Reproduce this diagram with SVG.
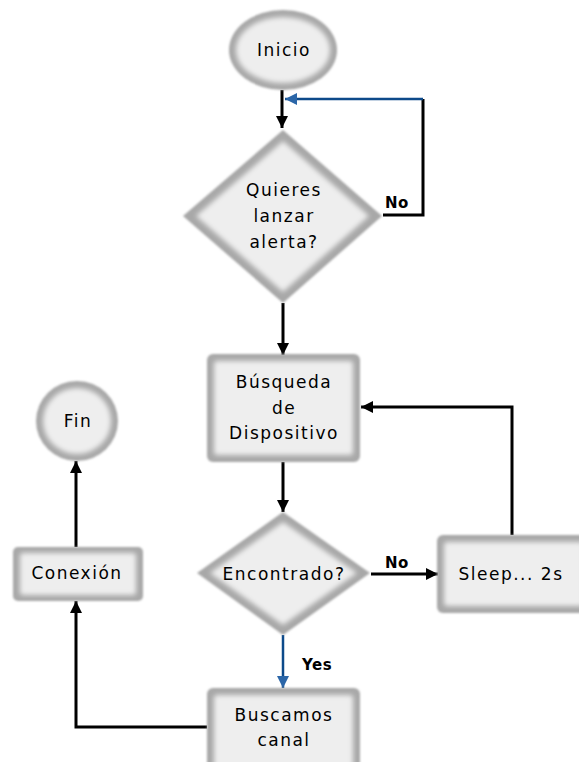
<svg xmlns="http://www.w3.org/2000/svg" width="579" height="762" viewBox="0 0 579 762">
  <style>
    .rim { fill: #a8a8a8; filter: url(#edge); }
    .face { fill: #eeeeee; filter: url(#soft); }
    .lbl { font-family: "DejaVu Sans", "Liberation Sans", sans-serif; font-size: 17px; letter-spacing: 1.5px; fill: #000; text-anchor: middle; }
    .tag { font-family: "DejaVu Sans", "Liberation Sans", sans-serif; font-size: 15px; font-weight: bold; letter-spacing: 0.5px; fill: #000; }
    .wire { fill: none; stroke: #000; stroke-width: 3; }
    .wire-b { fill: none; stroke: #0d4a8a; stroke-width: 2.5; }
  </style>
  <defs>
    <filter id="edge" x="-10%" y="-10%" width="120%" height="120%">
      <feGaussianBlur stdDeviation="1"/>
    </filter>
    <filter id="soft" x="-10%" y="-10%" width="120%" height="120%">
      <feGaussianBlur stdDeviation="2.5"/>
    </filter>
    <marker id="ah" markerUnits="userSpaceOnUse" markerWidth="12" markerHeight="12" refX="12" refY="6" orient="auto">
      <path d="M0,0 L12,6 L0,12 z" fill="#000"/>
    </marker>
    <marker id="ah-b" markerUnits="userSpaceOnUse" markerWidth="12" markerHeight="12" refX="12" refY="6" orient="auto">
      <path d="M0,0 L12,6 L0,12 z" fill="#2b66a8"/>
    </marker>
  </defs>

  <rect width="579" height="762" fill="#ffffff"/>

  <!-- connectors -->
  <g id="connectors">
    <path class="wire" d="M282,90 V128" marker-end="url(#ah)"/>
    <path class="wire" d="M383,215 H423 V99"/>
    <path class="wire-b" d="M423,99 H285" marker-end="url(#ah-b)"/>
    <path class="wire" d="M283,303 V355" marker-end="url(#ah)"/>
    <path class="wire" d="M283,462 V512" marker-end="url(#ah)"/>
    <path class="wire" d="M371,574 H438" marker-end="url(#ah)"/>
    <path class="wire" d="M512,535 V407 H361" marker-end="url(#ah)"/>
    <path class="wire-b" d="M283,635 V688" marker-end="url(#ah-b)"/>
    <path class="wire" d="M207,727 H76 V601" marker-end="url(#ah)"/>
    <path class="wire" d="M76,547 V461" marker-end="url(#ah)"/>
    <text class="tag" x="385" y="208">No</text>
    <text class="tag" x="385" y="568">No</text>
    <text class="tag" x="302" y="670">Yes</text>
  </g>

  <g id="inicio">
    <ellipse class="rim" cx="283" cy="50" rx="54" ry="40"/>
    <ellipse class="face" cx="283" cy="50" rx="47" ry="33"/>
    <text class="lbl" x="284" y="56">Inicio</text>
  </g>

  <g id="quieres">
    <polygon class="rim" points="283,130 382,216 283,303 183,216"/>
    <polygon class="face" points="283,141 369,216 283,292 196,216"/>
    <text class="lbl" x="284" y="196">Quieres</text>
    <text class="lbl" x="284" y="222">lanzar</text>
    <text class="lbl" x="284" y="248">alerta?</text>
  </g>

  <g id="busqueda">
    <rect class="rim" x="207" y="354" width="153" height="108" rx="6"/>
    <rect class="face" x="214" y="361" width="139" height="94" rx="3"/>
    <text class="lbl" x="284" y="388">Búsqueda</text>
    <text class="lbl" x="284" y="414">de</text>
    <text class="lbl" x="284" y="439">Dispositivo</text>
  </g>

  <g id="encontrado">
    <polygon class="rim" points="283,512 370,573 283,635 197,573"/>
    <polygon class="face" points="283,522 357,573 283,625 210,573"/>
    <text class="lbl" x="284" y="580">Encontrado?</text>
  </g>

  <g id="sleep">
    <rect class="rim" x="437" y="535" width="150" height="78" rx="6"/>
    <rect class="face" x="444" y="542" width="140" height="64" rx="3"/>
    <text class="lbl" x="511" y="580">Sleep... 2s</text>
  </g>

  <g id="buscamos">
    <rect class="rim" x="207" y="688" width="153" height="90" rx="6"/>
    <rect class="face" x="214" y="695" width="139" height="80" rx="3"/>
    <text class="lbl" x="284" y="721">Buscamos</text>
    <text class="lbl" x="284" y="746">canal</text>
  </g>

  <g id="conexion">
    <rect class="rim" x="13" y="547" width="130" height="54" rx="5"/>
    <rect class="face" x="20" y="553" width="116" height="42" rx="3"/>
    <text class="lbl" x="77" y="579">Conexión</text>
  </g>

  <g id="fin">
    <ellipse class="rim" cx="77" cy="421" rx="41" ry="40"/>
    <ellipse class="face" cx="77" cy="421" rx="34" ry="33"/>
    <text class="lbl" x="78" y="427">Fin</text>
  </g>
</svg>
